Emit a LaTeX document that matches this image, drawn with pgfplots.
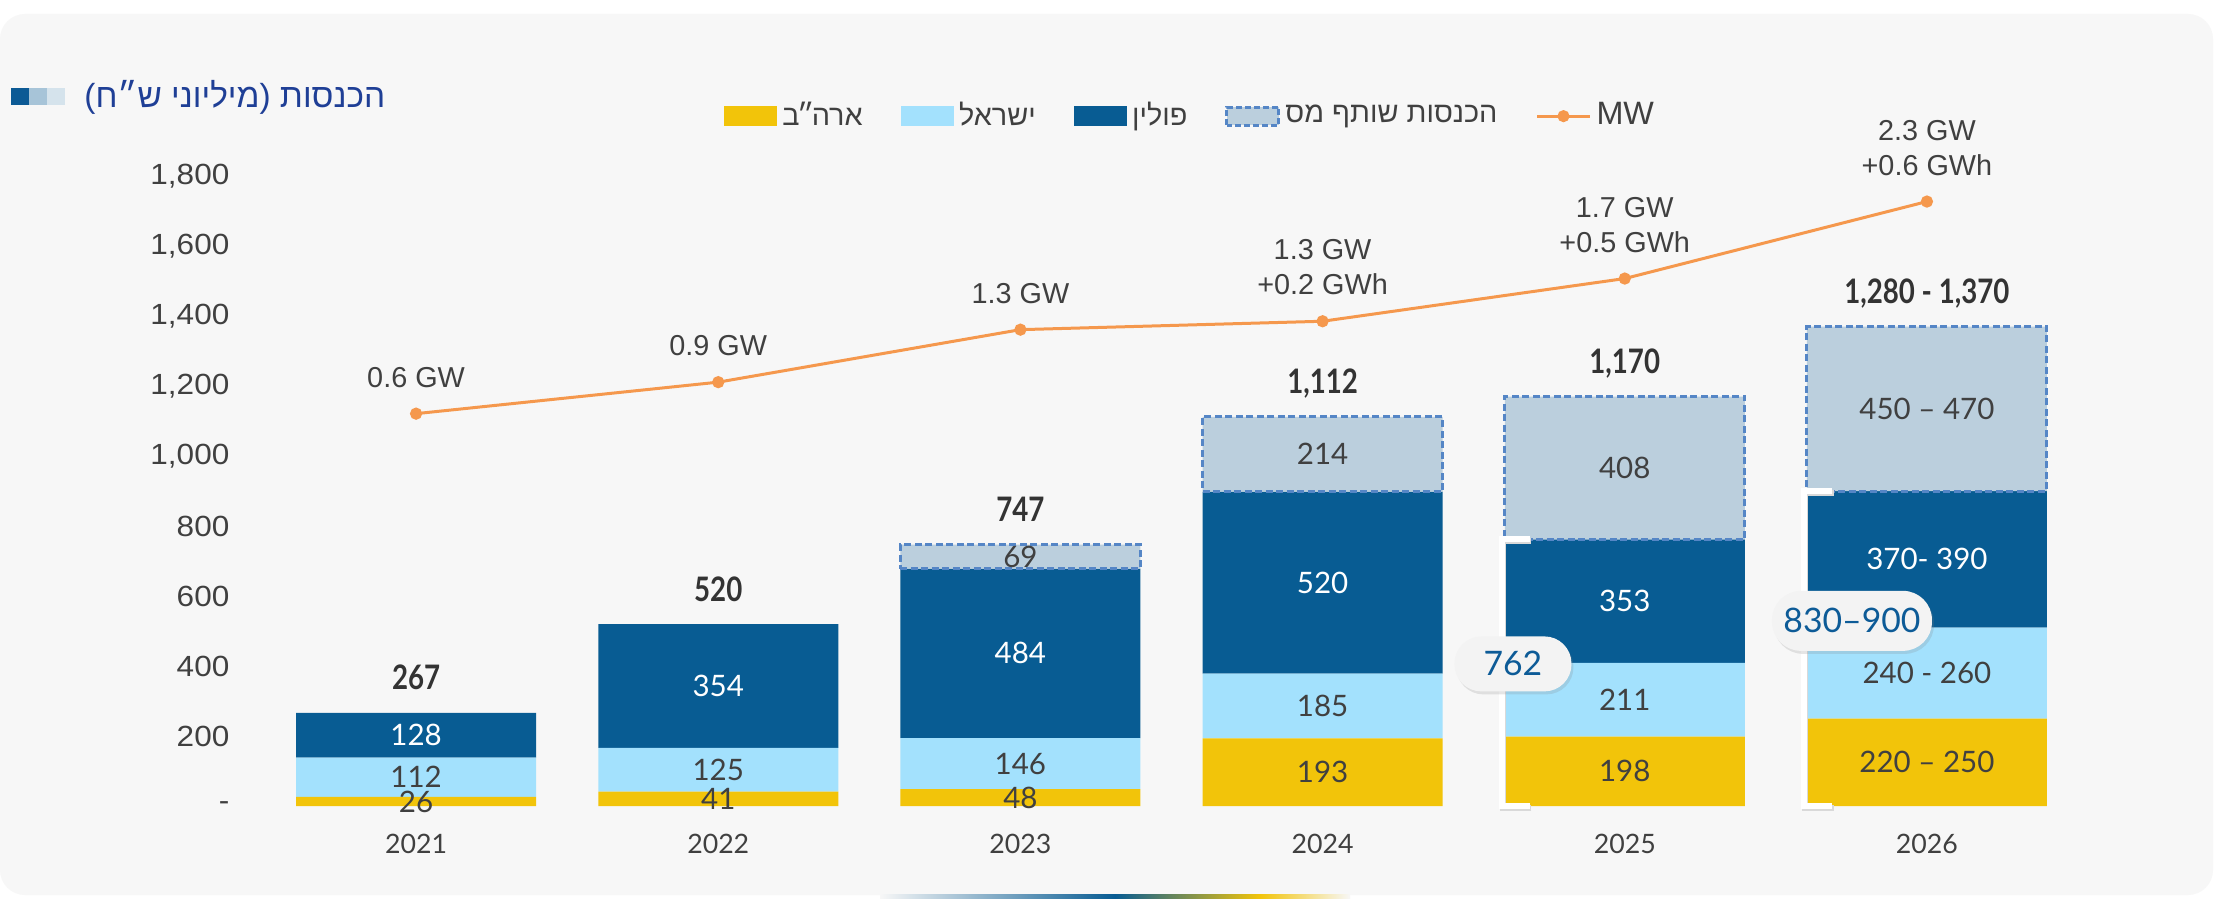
\documentclass[border=0pt]{standalone}
\usepackage{fontspec}
\usepackage{pgfplots}
\usepackage{pgfplotstable}
\pgfplotsset{compat=1.18}
\usetikzlibrary{shadows}
\TeXXeTstate=1
\setmainfont{Liberation Sans}
\newfontfamily\tickfont[FakeStretch=1.08]{Liberation Sans}
\newfontfamily\latofont{Lato}
\newfontfamily\totfont[FakeStretch=0.82]{Lato}
\newfontfamily\hebfont[Script=Hebrew]{Liberation Sans}

\definecolor{cusa}{HTML}{F2C40A}
\definecolor{cisr}{HTML}{A3E1FD}
\definecolor{cpol}{HTML}{085C93}
\definecolor{ctax}{HTML}{BBCFDD}
\definecolor{cdash}{HTML}{5586C6}
\definecolor{corange}{HTML}{F5984D}
\definecolor{txt}{HTML}{404040}
\definecolor{tot}{HTML}{333333}
\definecolor{ttl}{HTML}{1F3F96}
\definecolor{pilltxt}{HTML}{0D5B97}
\definecolor{pillbg}{HTML}{F3F3F3}
\definecolor{bg}{HTML}{F7F7F7}
\definecolor{sq1}{HTML}{0C5A95}
\definecolor{sq2}{HTML}{A7C4D8}
\definecolor{sq3}{HTML}{D5E3EC}

\pgfplotstableread{
x usa israel poland usalab israellab polandlab
0 26 112 128 26 112 128
1 41 125 354 41 125 354
2 48 146 484 48 146 484
3 193 185 520 193 185 520
4 198 211 353 198 211 353
5 250 260 390 {220 – 250} {240 - 260} {370- 390}
}\revenue

\pgfplotstableread{
x base tax taxlab
2 678 69 69
3 898 214 214
4 762 408 408
5 900 470 {450 – 470}
}\taxdata

\pgfplotsset{
  geom/.style={at={(2.65cm,0.94cm)}, anchor=south west, scale only axis,
    width=18.13cm, height=6.30cm, xmin=-0.5, xmax=5.5, ymin=0, ymax=1800, clip=false},
  seglabel/.style={nodes near coords, point meta=explicit symbolic,
    every node near coord/.append style={anchor=center, inner sep=0pt,
      font=\latofont\fontsize{8.4}{10}\selectfont}},
}

\begin{document}
\begin{tikzpicture}
\useasboundingbox (0,0) rectangle (22.28cm,9cm);
\fill[white] (0,0) rectangle (22.28cm,9cm);
\fill[bg, rounded corners=0.25cm] (0cm,0.05cm) rectangle (22.13cm,8.86cm);
\shade[left color=bg, right color=cpol] (8.8cm,0.02cm) rectangle (11.15cm,0.06cm);
\shade[left color=cpol, right color=cusa] (11.15cm,0.02cm) rectangle (12.6cm,0.06cm);
\shade[left color=cusa, right color=bg] (12.6cm,0.02cm) rectangle (13.5cm,0.06cm);

% title
\fill[sq1] (0.11cm,7.95cm) rectangle (0.29cm,8.12cm);
\fill[sq2] (0.29cm,7.95cm) rectangle (0.47cm,8.12cm);
\fill[sq3] (0.47cm,7.95cm) rectangle (0.65cm,8.12cm);
\node[anchor=east, inner sep=0pt, text=ttl, font=\hebfont\fontsize{9.5}{11}\selectfont] at (3.86cm,8.03cm) {\beginR הכנסות (מיליוני ש״ח)\endR};

% stacked bars
\begin{axis}[geom, hide axis, ybar stacked, bar width=2.4cm]
\addplot[fill=cusa, draw=none, seglabel, every node near coord/.append style={text=txt}] table[x=x, y=usa, meta=usalab] {\revenue};
\addplot[fill=cisr, draw=none, seglabel, every node near coord/.append style={text=txt}] table[x=x, y=israel, meta=israellab] {\revenue};
\addplot[fill=cpol, draw=none, seglabel, every node near coord/.append style={text=white}] table[x=x, y=poland, meta=polandlab] {\revenue};
\end{axis}

% tax partner boxes
\begin{axis}[geom, hide axis, ybar stacked, bar width=2.4cm]
\addplot[draw=none, fill=none] table[x=x, y=base] {\taxdata};
\addplot[fill=ctax, draw=cdash, line width=0.03cm, dash pattern=on 0.07cm off 0.035cm, seglabel, every node near coord/.append style={text=txt}] table[x=x, y=tax, meta=taxlab] {\taxdata};
\end{axis}

% main axis
\begin{axis}[geom,
  axis line style={draw=none}, tick style={draw=none}, major tick length=0pt,
  xtick={0,1,2,3,4,5}, xticklabels={2021,2022,2023,2024,2025,2026},
  ytick={0,200,...,1800},
  yticklabels={{-\hspace{0.15cm}},200,400,600,800,{1,000},{1,200},{1,400},{1,600},{1,800}},
  yticklabel style={anchor=east, inner sep=0pt, xshift=-0.35cm, text=txt, font=\tickfont\fontsize{8.3}{10}\selectfont},
  xticklabel style={anchor=center, inner sep=0pt, yshift=-0.38cm, text=txt, font=\latofont\fontsize{7.6}{9}\selectfont},
  legend style={at={(0.511,1.095)}, anchor=center, draw=none, fill=none, inner sep=0pt,
    legend columns=5, nodes={inner sep=0.05cm, text=txt, font=\fontsize{8.2}{10}\selectfont},
    /tikz/every even column/.append style={column sep=0.33cm}},
]
\addlegendimage{legend image code/.code={\fill[cusa] (0cm,-0.09cm) rectangle (0.52cm,0.09cm);}}
\addlegendentry{\hebfont\beginR ארה\kern-0.09em״\kern-0.09emב\endR}
\addlegendimage{legend image code/.code={\fill[cisr] (0cm,-0.09cm) rectangle (0.52cm,0.09cm);}}
\addlegendentry{\hebfont\beginR ישראל\endR}
\addlegendimage{legend image code/.code={\fill[cpol] (0cm,-0.09cm) rectangle (0.52cm,0.09cm);}}
\addlegendentry{\hebfont\beginR פולין\endR}
\addlegendimage{legend image code/.code={\filldraw[fill=ctax, draw=cdash, line width=0.03cm, dash pattern=on 0.06cm off 0.03cm] (0cm,-0.09cm) rectangle (0.52cm,0.09cm);}}
\addlegendentry{\hebfont\beginR הכנסות שותף מס\endR}

\addplot[color=corange, line width=0.03cm, mark=*, mark size=1.3pt, mark options={fill=corange, draw=corange},
  legend image code/.code={\draw[corange, line width=0.03cm] (0cm,0cm) -- (0.53cm,0cm); \fill[corange] (0.265cm,0cm) circle (0.045cm);},
  nodes near coords, point meta=explicit symbolic,
  every node near coord/.append style={anchor=south, align=center, inner sep=0pt, yshift=0.245cm, text=txt, font=\fontsize{8.2}{10}\selectfont}]
  coordinates {(0,1121) [0.6 GW] (1,1211) [0.9 GW] (2,1361) [1.3 GW] (3,1385) [{1.3 GW\\+0.2 GWh}] (4,1507) [{1.7 GW\\+0.5 GWh}] (5,1727) [{2.3 GW\\+0.6 GWh}]};
\addlegendentry{\fontsize{9.2}{10}\selectfont MW}

\addplot[draw=none, mark=none, forget plot, nodes near coords, point meta=explicit symbolic,
  every node near coord/.append style={anchor=base, inner sep=0pt, yshift=0.23cm, text=tot, font=\totfont\bfseries\fontsize{9.6}{11}\selectfont}]
  coordinates {(0,266) [267] (1,520) [520] (2,747) [747] (3,1112) [{1,112}] (4,1170) [{1,170}] (5,1370) [{1,280 - 1,370}]};

% brackets
\draw[black!15, line width=0.06cm, shift={(0.015cm,-0.02cm)}] (axis cs:3.686,0) -- (axis cs:3.593,0) -- (axis cs:3.593,762) -- (axis cs:3.686,762);
\draw[white, line width=0.06cm] (axis cs:3.686,0) -- (axis cs:3.593,0) -- (axis cs:3.593,762) -- (axis cs:3.686,762);
\draw[black!15, line width=0.06cm, shift={(0.015cm,-0.02cm)}] (axis cs:4.686,0) -- (axis cs:4.593,0) -- (axis cs:4.593,900) -- (axis cs:4.686,900);
\draw[white, line width=0.06cm] (axis cs:4.686,0) -- (axis cs:4.593,0) -- (axis cs:4.593,900) -- (axis cs:4.686,900);

% pills
\node[fill=pillbg, rounded corners=0.27cm, minimum width=1.17cm, minimum height=0.55cm, inner sep=0pt, text=pilltxt,
  font=\latofont\fontsize{9.6}{11}\selectfont, drop shadow={opacity=0.2, shadow xshift=0.02cm, shadow yshift=-0.03cm}]
  at (axis cs:3.63,406) {762};
\node[fill=pillbg, rounded corners=0.29cm, minimum width=1.6cm, minimum height=0.6cm, inner sep=0pt, text=pilltxt,
  font=\latofont\fontsize{9.6}{11}\selectfont, drop shadow={opacity=0.2, shadow xshift=0.02cm, shadow yshift=-0.03cm}]
  at (axis cs:4.752,529) {830–900};
\end{axis}
\end{tikzpicture}
\end{document}
